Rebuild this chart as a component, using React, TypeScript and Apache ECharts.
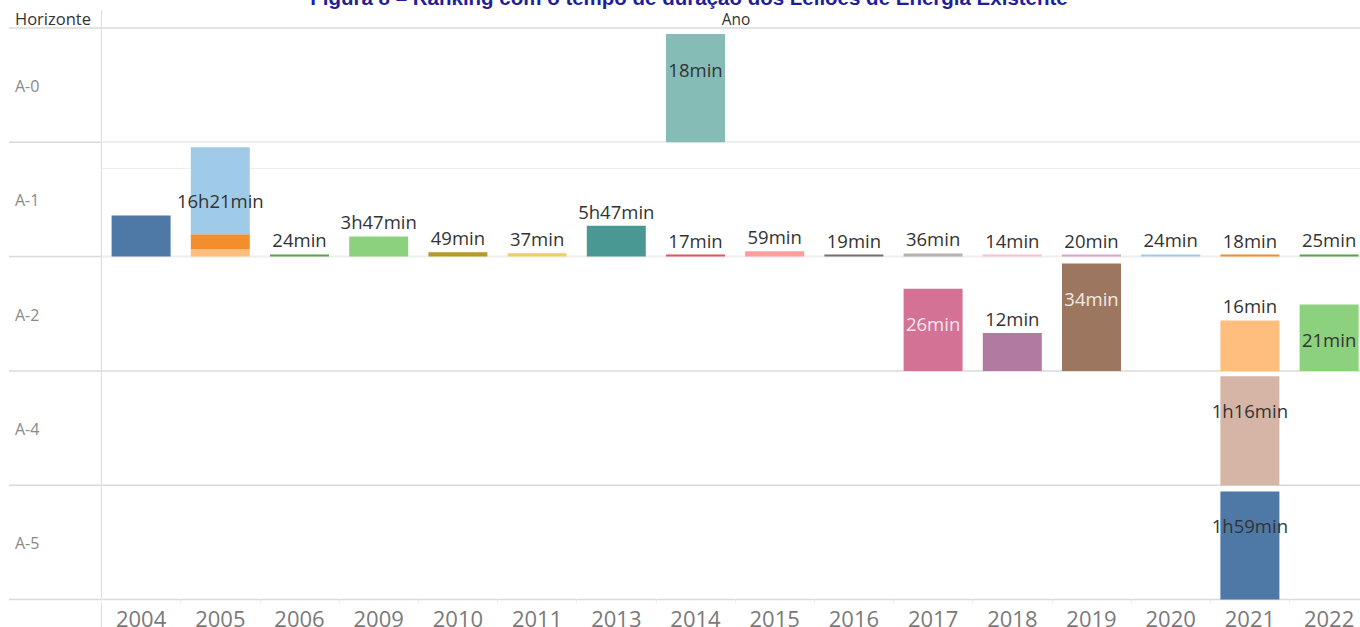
import React, { useEffect, useRef } from "react";
import * as echarts from "echarts";

const titleText = "Figura 8 – Ranking com o tempo de duração dos Leilões de Energia Existente";
const years = ["2004", "2005", "2006", "2009", "2010", "2011", "2013", "2014", "2015", "2016", "2017", "2018", "2019", "2020", "2021", "2022"];
const horizons = ["A-0", "A-1", "A-2", "A-4", "A-5"];

// durations in minutes (null = no auction)
const a0Values = [null, null, null, null, null, null, null, 18, null, null, null, null, null, null, null, null];
const a1Base = [463, 87, 24, 227, 49, 37, 347, 17, 59, 19, 36, 14, 20, 24, 18, 25];
const a1Mid = [null, 165, null, null, null, null, null, null, null, null, null, null, null, null, null, null];
const a1Top = [null, 981, null, null, null, null, null, null, null, null, null, null, null, null, null, null];
const a2Values = [null, null, null, null, null, null, null, null, null, null, 26, 12, 34, null, 16, 21];
const a4Values = [null, null, null, null, null, null, null, null, null, null, null, null, null, null, 76, null];
const a5Values = [null, null, null, null, null, null, null, null, null, null, null, null, null, null, 119, null];

const rowMax = [19, 1290, 36.2, 79.8, 125.8];

const a0Colors = ["", "", "", "", "", "", "", "#86BCB6", "", "", "", "", "", "", "", ""];
const a1BaseColors = ["#4E79A7", "#FFBE7D", "#59A14F", "#8CD17D", "#B6992D", "#F1CE63", "#499894", "#E15759", "#FF9D9A", "#79706E", "#BAB0AC", "#FABFD2", "#D4A6C8", "#A0CBE8", "#F28E2B", "#59A14F"];
const a1MidColors = ["", "#F28E2B", "", "", "", "", "", "", "", "", "", "", "", "", "", ""];
const a1TopColors = ["", "#A0CBE8", "", "", "", "", "", "", "", "", "", "", "", "", "", ""];
const a2Colors = ["", "", "", "", "", "", "", "", "", "", "#D37295", "#B07AA1", "#9D7660", "", "#FFBE7D", "#8CD17D"];
const a4Colors = ["", "", "", "", "", "", "", "", "", "", "", "", "", "", "#D7B5A6", ""];
const a5Colors = ["", "", "", "", "", "", "", "", "", "", "", "", "", "", "#4E79A7", ""];

const layers = [
  { row: 0, name: "A-0", values: a0Values, colors: a0Colors, labelled: true },
  { row: 1, name: "A-1 base", values: a1Base, colors: a1BaseColors, labelled: true },
  { row: 1, name: "A-1 mid", values: a1Mid, colors: a1MidColors, labelled: false },
  { row: 1, name: "A-1 top", values: a1Top, colors: a1TopColors, labelled: true },
  { row: 2, name: "A-2", values: a2Values, colors: a2Colors, labelled: true },
  { row: 3, name: "A-4", values: a4Values, colors: a4Colors, labelled: true },
  { row: 4, name: "A-5", values: a5Values, colors: a5Colors, labelled: true },
];

// label placement (style only)
const insideLabels: Record<string, { d: number; c: string }> = {
  "A-0|2014": { d: 26, c: "#333333" },
  "A-1 top|2005": { d: 44, c: "#333333" },
  "A-2|2017": { d: 25, c: "#f6e6ee" },
  "A-2|2019": { d: 25, c: "#f3ebe4" },
  "A-2|2022": { d: 25, c: "#333333" },
  "A-4|2021": { d: 25, c: "#333333" },
  "A-5|2021": { d: 25, c: "#333333" },
};
const hiddenLabels = ["A-1 base|2004", "A-1 base|2005"];

const fmt = (m: number) => {
  const h = Math.floor(m / 60);
  const mm = Math.round(m % 60);
  return h > 0 ? `${h}h${mm}min` : `${mm}min`;
};

const FONT = "'Open Sans', 'DejaVu Sans', sans-serif";
const ROW_TOP = 28;
const ROW_H = 114.3;
const GRID_LEFT = 101.5;
const GRID_W = 1267.2;

export default function App() {
  const ref = useRef<HTMLDivElement>(null);
  useEffect(() => {
    if (!ref.current) return;
    const chart = echarts.init(ref.current, undefined, { renderer: "svg" });

    const grids = horizons.map((_, i) => ({
      left: GRID_LEFT,
      top: ROW_TOP + i * ROW_H,
      width: GRID_W,
      height: ROW_H,
      containLabel: false,
      outerBoundsMode: "none",
    }));

    const xAxes = horizons.map((_, i) => ({
      type: "category",
      gridIndex: i,
      data: years,
      axisLine: { show: false },
      axisTick: {
        show: i === horizons.length - 1,
        length: 4,
        lineStyle: { color: "#eeeeee" },
      },
      axisLabel: {
        show: i === horizons.length - 1,
        fontSize: 22,
        color: "#7a7a7a",
        fontFamily: FONT,
        margin: 7,
        interval: 0,
      },
    }));

    const yAxes = horizons.map((_, i) =>
      i === 1
        ? {
            type: "value",
            gridIndex: i,
            min: 0,
            max: rowMax[i],
            interval: 1000,
            axisLine: { show: false },
            axisTick: { show: false },
            axisLabel: { show: false },
            splitLine: { show: true, lineStyle: { color: "#efefef", width: 1 } },
          }
        : {
            type: "value",
            gridIndex: i,
            min: 0,
            max: rowMax[i],
            show: false,
            splitLine: { show: false },
          }
    );

    const series = layers.map((layer) => ({
      type: "bar",
      name: layer.name,
      xAxisIndex: layer.row,
      yAxisIndex: layer.row,
      stack: "row" + layer.row,
      barWidth: 59,
      barMinHeight: 2,
      data: layer.values.map((v, j) => {
        if (v === null) return null;
        const key = layer.name + "|" + years[j];
        const inside = insideLabels[key];
        const show = layer.labelled && !hiddenLabels.includes(key);
        return {
          value: v,
          itemStyle: { color: layer.colors[j] },
          label: inside
            ? { show, position: "insideTop", distance: inside.d, color: inside.c }
            : { show, position: "top", distance: 5, color: "#333333" },
        };
      }),
      label: {
        fontSize: 18.5,
        fontFamily: FONT,
        formatter: (p: any) => fmt(p.value),
      },
      emphasis: { disabled: true },
    }));

    const graphics: any[] = [
      {
        type: "text",
        x: 689,
        y: 8,
        style: {
          text: titleText,
          fill: "#1F1F9C",
          font: "bold 20.5px 'Liberation Sans', Arial, sans-serif",
          textAlign: "center",
          textVerticalAlign: "bottom",
        },
      },
      {
        type: "text",
        x: 15,
        y: 18,
        style: {
          text: "Horizonte",
          fill: "#333333",
          font: "16.5px " + FONT,
          textAlign: "left",
          textVerticalAlign: "middle",
        },
      },
      {
        type: "text",
        x: 736,
        y: 19,
        style: {
          text: "Ano",
          fill: "#333333",
          font: "15.5px " + FONT,
          textAlign: "center",
          textVerticalAlign: "middle",
        },
      },
      {
        type: "line",
        shape: { x1: 101.5, y1: 10, x2: 101.5, y2: 627 },
        style: { stroke: "#dcdcdc", lineWidth: 1 },
        z: 0,
      },
    ];
    for (let i = 0; i <= horizons.length; i++) {
      const y = ROW_TOP + i * ROW_H;
      graphics.push({
        type: "line",
        shape: { x1: 9, y1: y, x2: 1370, y2: y },
        style: { stroke: "#dadada", lineWidth: 1.5 },
        z: 0,
      });
    }
    horizons.forEach((h, i) => {
      graphics.push({
        type: "text",
        x: 15,
        y: ROW_TOP + i * ROW_H + ROW_H / 2 + 1,
        style: {
          text: h,
          fill: "#8a8a8a",
          font: "16px " + FONT,
          textAlign: "left",
          textVerticalAlign: "middle",
        },
      });
    });

    chart.setOption({
      animation: false,
      backgroundColor: "#ffffff",
      grid: grids,
      xAxis: xAxes,
      yAxis: yAxes,
      series,
      graphic: graphics,
    });
    return () => chart.dispose();
  }, []);

  return (
    <div style={{ position: "absolute", left: 0, top: 0, width: 1360, height: 627, overflow: "hidden" }}>
      <div ref={ref} style={{ width: 1372, height: 627 }} />
    </div>
  );
}
